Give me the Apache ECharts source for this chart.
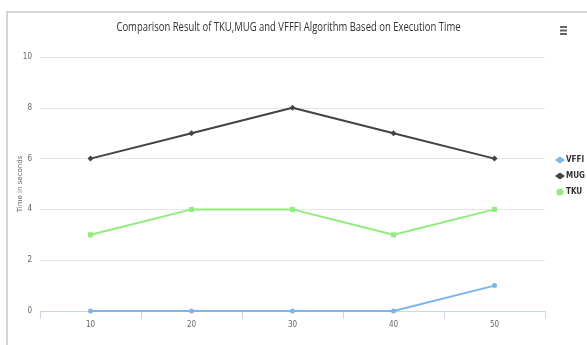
<!DOCTYPE html>
<html>
<head>
<meta charset="utf-8">
<style>
  html, body { margin: 0; padding: 0; background: #fff; }
  #chart { width: 587px; height: 345px; }
</style>
<script src="https://cdn.jsdelivr.net/npm/echarts@6/dist/echarts.min.js"></script>
</head>
<body>
<div id="chart"></div>
<script>
// Input sizes on the x axis
const categories = ['10', '20', '30', '40', '50'];
// Execution time (seconds) per algorithm
const vffiTimes = [0, 0, 0, 0, 1];
const mugTimes = [6, 7, 8, 7, 6];
const tkuTimes = [3, 4, 4, 3, 4];
const yTicks = [0, 2, 4, 6, 8, 10];
const chartTitle = 'Comparison Result of TKU,MUG and VFFFI Algorithm Based on Execution Time';

const narrow = '"DejaVu Sans Condensed", "Liberation Sans Narrow", sans-serif';

const chart = echarts.init(document.getElementById('chart'), null, { renderer: 'canvas' });

function series(name, data, color, symbol, size) {
  return {
    name: name,
    type: 'line',
    data: data,
    symbol: symbol,
    symbolSize: size,
    showSymbol: true,
    lineStyle: { color: color, width: 2 },
    itemStyle: { color: color },
    emphasis: { disabled: true }
  };
}

chart.setOption({
  animation: false,
  backgroundColor: '#ffffff',
  legend: {
    orient: 'vertical',
    left: 550,
    top: 151,
    itemGap: 8,
    itemWidth: 10,
    itemHeight: 7,
    textStyle: { fontFamily: narrow, fontSize: 8, fontWeight: 'bold', color: '#333333', padding: [0, 0, 0, -4] },
    data: [
      { name: 'VFFI', icon: 'diamond' },
      { name: 'MUG', icon: 'diamond' },
      { name: 'TKU', icon: 'circle' }
    ]
  },
  grid: { left: 40, right: 42, top: 57, bottom: 34 },
  xAxis: {
    type: 'category',
    data: categories,
    boundaryGap: true,
    axisLine: { lineStyle: { color: '#ccd6eb', width: 1 } },
    axisTick: { show: true, alignWithLabel: false, length: 8, lineStyle: { color: '#ccd6eb' } },
    axisLabel: { fontFamily: narrow, fontSize: 8, color: '#666666', margin: 10 },
    splitLine: { show: false }
  },
  yAxis: {
    type: 'value',
    min: yTicks[0],
    max: yTicks[yTicks.length - 1],
    interval: 2,
    name: 'Time in seconds',
    nameLocation: 'middle',
    nameGap: 16,
    nameMoveOverlap: false,
    nameRotate: 90,
    nameTextStyle: { fontFamily: 'DejaVu Sans', fontSize: 7, color: '#666666' },
    axisLine: { show: false },
    axisTick: { show: false },
    axisLabel: { fontFamily: narrow, fontSize: 8, color: '#666666', margin: 8 },
    splitLine: { lineStyle: { color: '#e6e6e6', width: 1 } }
  },
  series: [
    series('VFFI', vffiTimes, '#7cb5ec', 'circle', 5),
    series('MUG', mugTimes, '#434348', 'diamond', 6),
    series('TKU', tkuTimes, '#90ed7d', 'rect', 5)
  ],
  graphic: [
    // condensed chart title
    {
      type: 'text', x: 288.5, y: 28, scaleX: 0.79, originX: 0, originY: 0,
      style: {
        text: chartTitle, align: 'center', verticalAlign: 'middle',
        font: '12px "Open Sans", sans-serif', fill: '#333333'
      }
    },
    // outer frame: top and left edges
    { type: 'line', shape: { x1: 6, y1: 12, x2: 587, y2: 12 }, style: { stroke: '#d4d4d4', lineWidth: 2 } },
    { type: 'line', shape: { x1: 7, y1: 12, x2: 7, y2: 345 }, style: { stroke: '#d4d4d4', lineWidth: 2 } },
    // export menu icon
    { type: 'rect', shape: { x: 560, y: 26, width: 7, height: 2 }, style: { fill: '#666666' } },
    { type: 'rect', shape: { x: 560, y: 29.5, width: 7, height: 2 }, style: { fill: '#666666' } },
    { type: 'rect', shape: { x: 560, y: 33, width: 7, height: 2 }, style: { fill: '#666666' } }
  ]
});
</script>
</body>
</html>
